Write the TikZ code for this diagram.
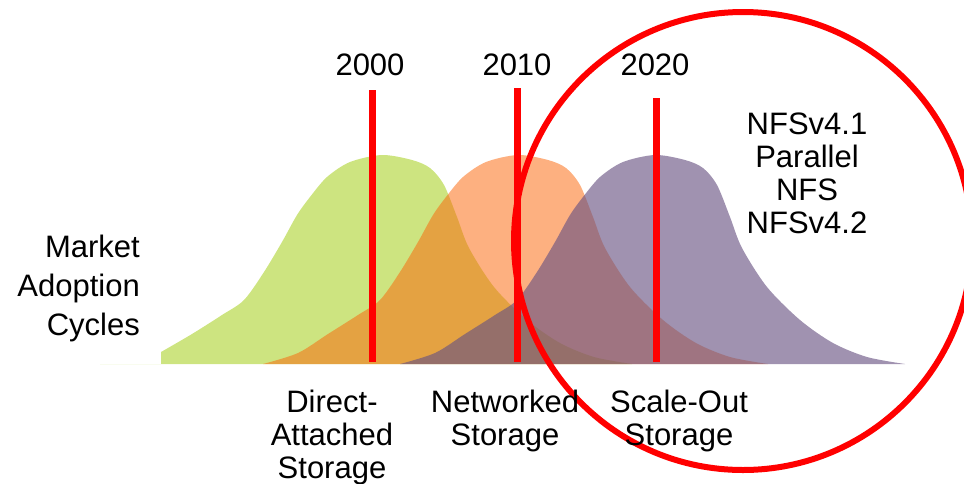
\documentclass[tikz,border=0pt]{standalone}
\usepackage{fontspec}
\setmainfont{Liberation Sans}
\definecolor{cgreen}{RGB}{205,228,128}
\definecolor{corange}{RGB}{251,103,11}
\definecolor{cpurple}{RGB}{104,82,130}
\definecolor{cred}{RGB}{255,0,0}
\newcommand\bellcurve{plot[smooth] coordinates {(-255,364) (-220,353) (-190,334) (-160,315) (-138,300) (-118,272) (-100,242) (-85,215) (-72,197) (-55,177) (-32,162) (0,155) (30,160) (48,168) (62,185) (75,217) (87,248) (112,287) (145,320) (178,343) (212,357) (250,364)}}
\tikzset{
  lbl/.style={font=\fontsize{31}{33}\selectfont, inner sep=0pt, text=black},
  yearline/.style={draw=cred, line width=7pt},
}
\begin{document}
\begin{tikzpicture}[x=1pt,y=-1pt]
\useasboundingbox (0,0) rectangle (964,483);
% curves
\begin{scope}[xshift=382pt]
\fill[cgreen] (-282,364) -- (-221,364) -- plot[smooth] coordinates {(-221,352) (-190,334) (-160,315) (-138,300) (-118,272) (-100,242) (-85,215) (-72,197) (-55,177) (-32,162) (0,155) (30,160) (48,168) (62,185) (75,217) (87,248) (112,287) (145,320) (178,343) (212,357) (250,364)} -- cycle;
\end{scope}
\begin{scope}[xshift=518pt]
\fill[corange, fill opacity=0.52] \bellcurve -- cycle;
\end{scope}
\begin{scope}[xshift=655pt]
\fill[cpurple, fill opacity=0.63] \bellcurve -- cycle;
\end{scope}
% year lines
\coordinate (t1) at (372,90);  \coordinate (b1) at (372,362);
\coordinate (t2) at (517,88);  \coordinate (b2) at (517,362);
\coordinate (t3) at (656,98);  \coordinate (b3) at (656,362);
\draw[yearline] (t1) -- (b1);
\draw[yearline] (t2) -- (b2);
\draw[yearline] (t3) -- (b3);
% circle
\draw[cred, line width=6pt] (743,241) circle [radius=229];
% labels (base anchor = baseline of last line)
\node[lbl, anchor=base] (y2000) at (370,75) {2000};
\node[lbl, anchor=base] (y2010) at (517,75) {2010};
\node[lbl, anchor=base] (y2020) at (655,75) {2020};
\node[lbl, anchor=base, align=center] (nfs) at (807,233) {NFSv4.1\\Parallel\\NFS\\NFSv4.2};
\node[lbl, font=\fontsize{31}{39}\selectfont, anchor=base east, align=right] (mac) at (140,335) {Market\\Adoption\\Cycles};
\node[lbl, anchor=base, align=center] (das) at (332,478) {Direct-\\Attached\\Storage};
\node[lbl, anchor=base, align=center] (nas) at (505,445) {Networked\\Storage};
\node[lbl, anchor=base, align=center] (sos) at (679,445) {Scale-Out\\Storage};
\end{tikzpicture}
\end{document}
